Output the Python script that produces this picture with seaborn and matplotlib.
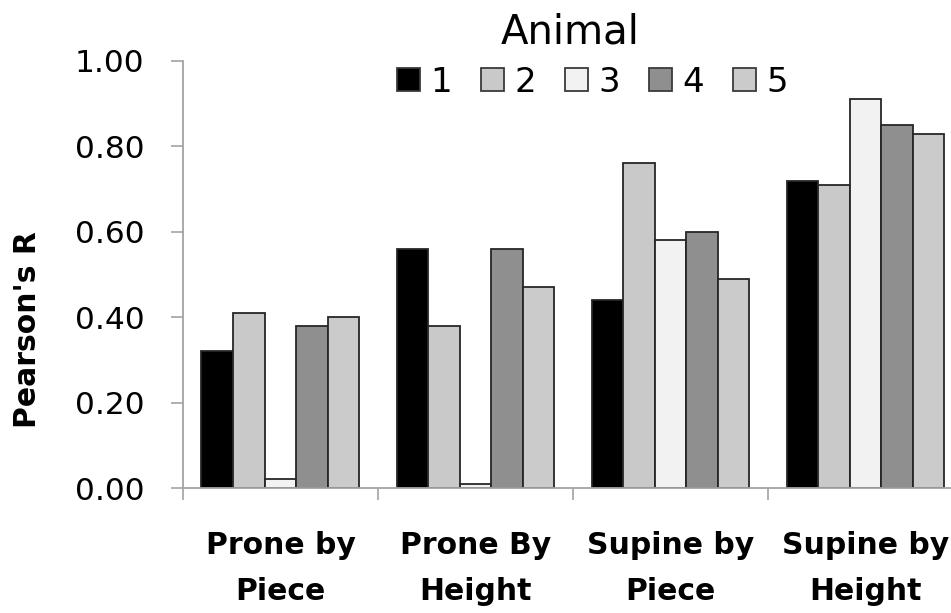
import matplotlib
matplotlib.use("Agg")
import matplotlib.pyplot as plt
from matplotlib.ticker import FixedLocator, FormatStrFormatter
import seaborn as sns
import pandas as pd

# Correlation between measured and predicted values, per positioning method
conditions = ["Prone by\nPiece", "Prone By\nHeight", "Supine by\nPiece", "Supine by\nHeight"]
animals = ["1", "2", "3", "4", "5"]
animal_1 = [0.32, 0.56, 0.44, 0.72]
animal_2 = [0.41, 0.38, 0.76, 0.71]
animal_3 = [0.02, 0.01, 0.58, 0.91]
animal_4 = [0.38, 0.56, 0.60, 0.85]
animal_5 = [0.40, 0.47, 0.49, 0.83]
y_ticks = [0.0, 0.2, 0.4, 0.6, 0.8, 1.0]

series = [animal_1, animal_2, animal_3, animal_4, animal_5]
df = pd.DataFrame(
    [(c, a, v) for a, vals in zip(animals, series) for c, v in zip(conditions, vals)],
    columns=["condition", "animal", "r"],
)

fills = ["#000000", "#c9c9c9", "#f2f2f2", "#8f8f8f", "#cbcbcb"]
axis_grey = "#a3a3a3"

sns.set_style("white")
plt.rcParams["font.family"] = ["DejaVu Sans"]
plt.rcParams["text.color"] = "black"
plt.rcParams["axes.labelcolor"] = "black"
plt.rcParams["xtick.color"] = "black"
plt.rcParams["ytick.color"] = "black"

fig = plt.figure(figsize=(9.51, 6.13), dpi=100)
ax = fig.add_axes([0.1924, 0.2039, 0.8202, 0.6966])

sns.barplot(
    data=df, x="condition", y="r", hue="animal",
    order=conditions, hue_order=animals,
    palette=fills, width=0.81, gap=0,
    edgecolor="#262626", linewidth=1.3, saturation=1,
    errorbar=None, ax=ax,
)

ax.set_xlim(-0.5, 3.5)
ax.set_ylim(0, 1.0)
ax.yaxis.set_major_locator(FixedLocator(y_ticks))
ax.yaxis.set_major_formatter(FormatStrFormatter("%.2f"))

for side in ["top", "right"]:
    ax.spines[side].set_visible(False)
for side in ["left", "bottom"]:
    ax.spines[side].set_color(axis_grey)
    ax.spines[side].set_linewidth(1.3)

ax.tick_params(axis="y", which="major", left=True, direction="out", length=8.6,
               width=1.2, color=axis_grey, pad=19, labelsize=22.5, labelcolor="black")
ax.tick_params(axis="x", which="major", bottom=True, length=0, pad=31,
               labelsize=21.5, labelcolor="black")
ax.xaxis.set_minor_locator(FixedLocator([-0.5, 0.5, 1.5, 2.5, 3.5]))
ax.tick_params(axis="x", which="minor", bottom=True, direction="out", length=8.6,
               width=1.2, color=axis_grey)
for lbl in ax.get_xticklabels():
    lbl.set_fontweight("bold")
    lbl.set_linespacing(1.75)

ax.set_xlabel("")
ax.set_ylabel("Pearson's R", fontsize=21.5, fontweight="bold", va="center", color="black")
ax.yaxis.set_label_coords(-0.1987, 0.370)

handles, labels = ax.get_legend_handles_labels()
ax.get_legend().remove()
leg = fig.legend(
    handles, labels, loc="center left", bbox_to_anchor=(0.4175, 0.866),
    ncol=5, frameon=False, fontsize=24.5, borderpad=0, borderaxespad=0,
    handlelength=0.68, handleheight=0.68, handletextpad=0.3, columnspacing=0.85,
)
for h in leg.legend_handles:
    h.set_edgecolor("#3a3a3a")
    h.set_linewidth(1.3)
for t in leg.get_texts():
    t.set_color("black")
fig.text(570 / 951, 1 - 33 / 613, "Animal", fontsize=29, ha="center", va="center",
         color="black")

fig.savefig("out.png", dpi=100)
